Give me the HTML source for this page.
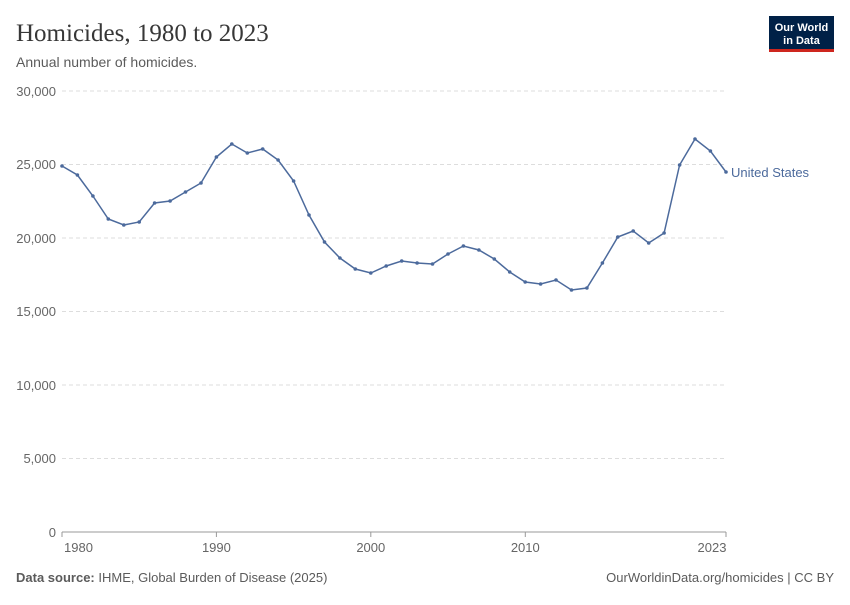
<!DOCTYPE html>
<html><head><meta charset="utf-8"><style>
body{margin:0;background:#fff;width:850px;height:600px;overflow:hidden;font-family:"Liberation Sans",sans-serif}
</style></head><body>
<svg width="850" height="600" xmlns="http://www.w3.org/2000/svg" font-family="Liberation Sans, sans-serif">
<text x="16" y="41" font-family="Liberation Serif, serif" font-size="25" fill="#373737">Homicides, 1980 to 2023</text>
<text x="16" y="67" font-size="14" fill="#5b5b5b">Annual number of homicides.</text>
<rect x="769" y="16" width="65" height="34" fill="#002147"/>
<rect x="769" y="49" width="65" height="3" fill="#ce261e"/>
<text x="801.5" y="31" font-size="11" fill="#fff" text-anchor="middle" font-weight="bold">Our World</text>
<text x="801.5" y="44" font-size="11" fill="#fff" text-anchor="middle" font-weight="bold">in Data</text>
<g stroke="#ddd" stroke-dasharray="4,3" stroke-width="1">
<line x1="62" x2="726" y1="91" y2="91"/><line x1="62" x2="726" y1="164.5" y2="164.5"/>
<line x1="62" x2="726" y1="238" y2="238"/><line x1="62" x2="726" y1="311.5" y2="311.5"/>
<line x1="62" x2="726" y1="385" y2="385"/><line x1="62" x2="726" y1="458.5" y2="458.5"/>
</g>
<line x1="62" x2="726" y1="532" y2="532" stroke="#999"/>
<g stroke="#999"><line x1="62" x2="62" y1="532" y2="537"/><line x1="216.4" x2="216.4" y1="532" y2="537"/><line x1="370.8" x2="370.8" y1="532" y2="537"/><line x1="525.3" x2="525.3" y1="532" y2="537"/><line x1="726" x2="726" y1="532" y2="537"/></g>
<g font-size="13" fill="#666" text-anchor="end">
<text x="56" y="96">30,000</text><text x="56" y="169">25,000</text><text x="56" y="243">20,000</text>
<text x="56" y="316">15,000</text><text x="56" y="390">10,000</text><text x="56" y="463">5,000</text><text x="56" y="537">0</text>
</g>
<g font-size="13" fill="#666" text-anchor="middle">
<text x="64" y="552" text-anchor="start">1980</text><text x="216.4" y="552">1990</text><text x="370.8" y="552">2000</text><text x="525.3" y="552">2010</text><text x="712" y="552">2023</text>
</g>
<polyline id="l" fill="none" stroke="#4c6a9c" stroke-width="1.5" points="62,166 77.4,175 92.9,196 108.3,219 123.8,225 139.2,222 154.6,203 170.1,201 185.5,192 201,183 216.4,157 231.8,144 247.3,153 262.7,149 278.1,160 293.6,181 309,215 324.5,242 339.9,258 355.3,269 370.8,273 386.2,266 401.7,261 417.1,263 432.5,264 448,254 463.4,246 478.9,250 494.3,259 509.7,272 525.2,282 540.6,284 556,280 571.5,290 586.9,288 602.4,263 617.8,237 633.2,231 648.7,243 664.1,233 679.6,165 695,139 710.4,151 726,172"/>
<g fill="#4c6a9c">
<circle cx="62" cy="166" r="1.8"/><circle cx="77.4" cy="175" r="1.8"/><circle cx="92.9" cy="196" r="1.8"/><circle cx="108.3" cy="219" r="1.8"/><circle cx="123.8" cy="225" r="1.8"/><circle cx="139.2" cy="222" r="1.8"/><circle cx="154.6" cy="203" r="1.8"/><circle cx="170.1" cy="201" r="1.8"/><circle cx="185.5" cy="192" r="1.8"/><circle cx="201" cy="183" r="1.8"/><circle cx="216.4" cy="157" r="1.8"/><circle cx="231.8" cy="144" r="1.8"/><circle cx="247.3" cy="153" r="1.8"/><circle cx="262.7" cy="149" r="1.8"/><circle cx="278.1" cy="160" r="1.8"/><circle cx="293.6" cy="181" r="1.8"/><circle cx="309" cy="215" r="1.8"/><circle cx="324.5" cy="242" r="1.8"/><circle cx="339.9" cy="258" r="1.8"/><circle cx="355.3" cy="269" r="1.8"/><circle cx="370.8" cy="273" r="1.8"/><circle cx="386.2" cy="266" r="1.8"/><circle cx="401.7" cy="261" r="1.8"/><circle cx="417.1" cy="263" r="1.8"/><circle cx="432.5" cy="264" r="1.8"/><circle cx="448" cy="254" r="1.8"/><circle cx="463.4" cy="246" r="1.8"/><circle cx="478.9" cy="250" r="1.8"/><circle cx="494.3" cy="259" r="1.8"/><circle cx="509.7" cy="272" r="1.8"/><circle cx="525.2" cy="282" r="1.8"/><circle cx="540.6" cy="284" r="1.8"/><circle cx="556" cy="280" r="1.8"/><circle cx="571.5" cy="290" r="1.8"/><circle cx="586.9" cy="288" r="1.8"/><circle cx="602.4" cy="263" r="1.8"/><circle cx="617.8" cy="237" r="1.8"/><circle cx="633.2" cy="231" r="1.8"/><circle cx="648.7" cy="243" r="1.8"/><circle cx="664.1" cy="233" r="1.8"/><circle cx="679.6" cy="165" r="1.8"/><circle cx="695" cy="139" r="1.8"/><circle cx="710.4" cy="151" r="1.8"/><circle cx="726" cy="172" r="1.8"/>
</g>
<text x="731" y="177" font-size="13" fill="#4c6a9c">United States</text>
<text x="16" y="582" font-size="13" fill="#5b5b5b"><tspan font-weight="bold">Data source:</tspan> IHME, Global Burden of Disease (2025)</text>
<text x="834" y="582" font-size="13" fill="#5b5b5b" text-anchor="end">OurWorldinData.org/homicides | CC BY</text>
</svg>
</body></html>
